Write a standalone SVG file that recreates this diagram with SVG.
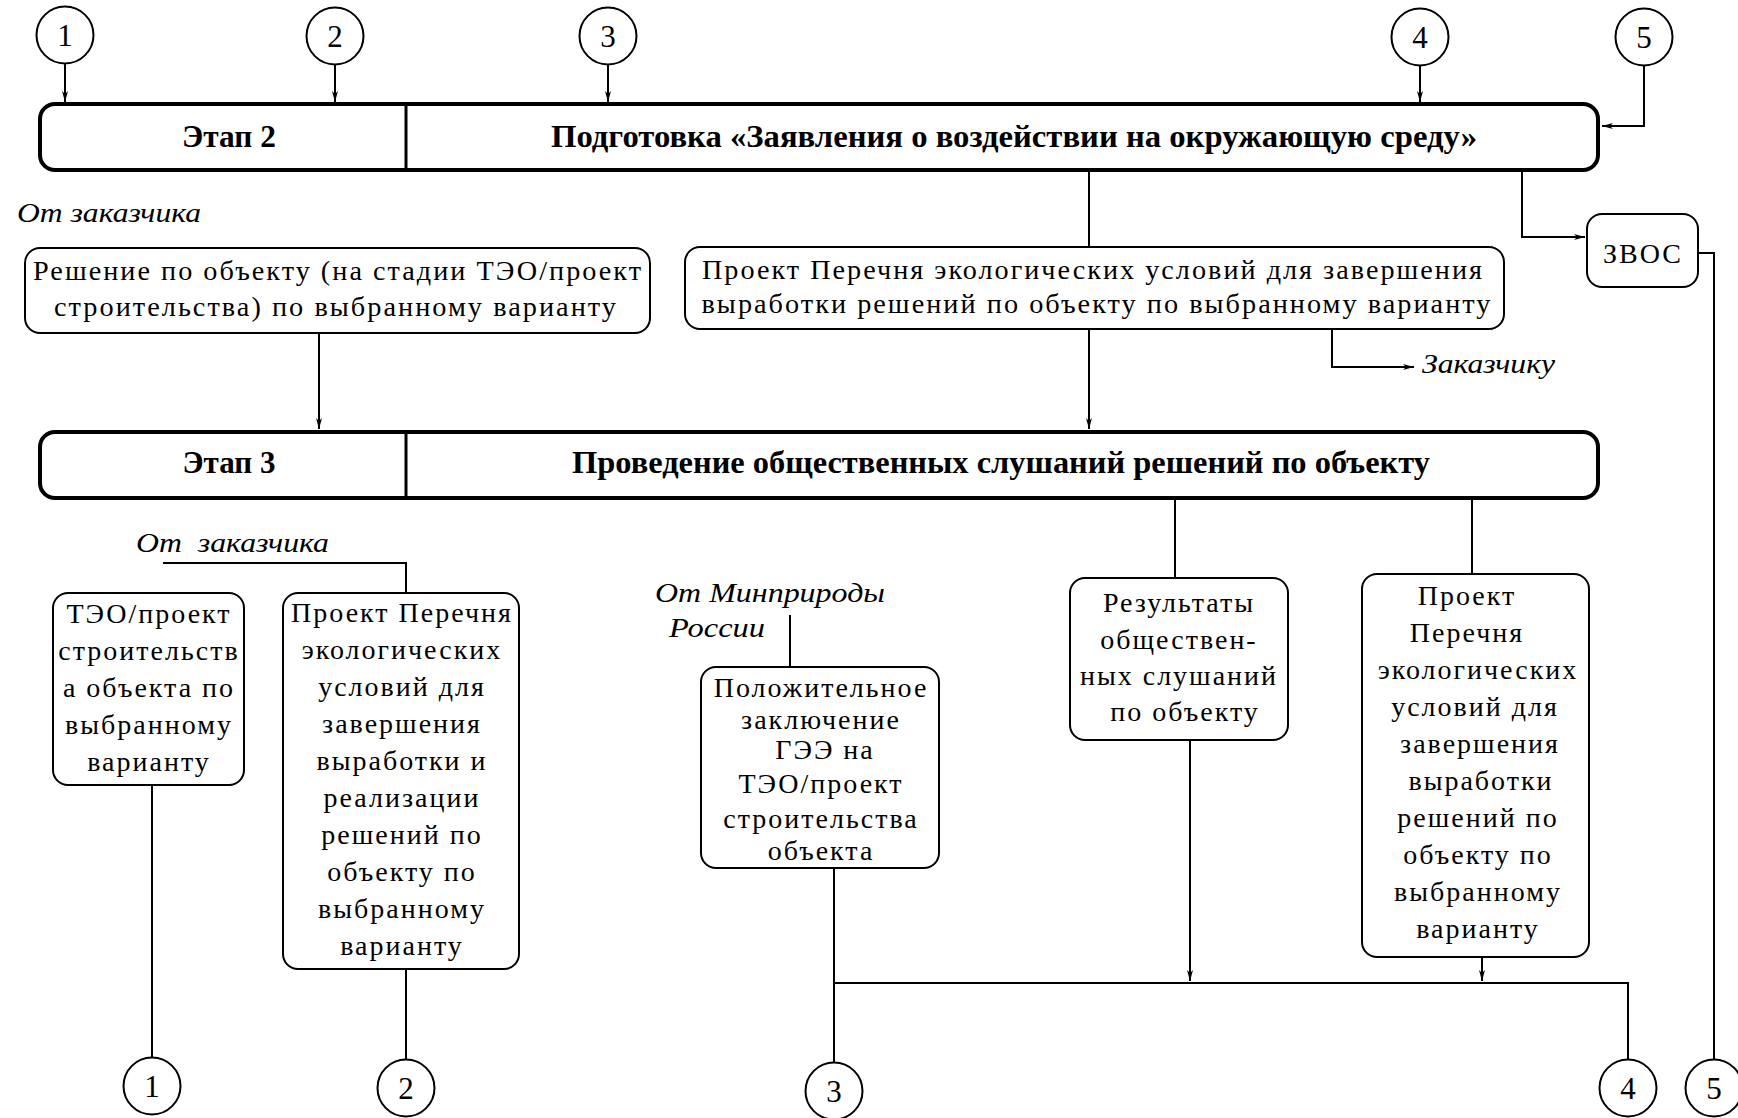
<svg xmlns="http://www.w3.org/2000/svg" width="1738" height="1118" viewBox="0 0 1738 1118">
<style>
.bar{fill:#fff;stroke:#000;stroke-width:4}
.div{stroke:#000;stroke-width:3}
.box{fill:#fff;stroke:#000;stroke-width:2}
.circ{fill:#fff;stroke:#000;stroke-width:2}
.ln{fill:none;stroke:#000;stroke-width:2}
.t{font-family:"Liberation Serif","Times New Roman",serif;font-size:28px;letter-spacing:2px;text-anchor:middle;fill:#000}
.h{font-family:"Liberation Serif","Times New Roman",serif;font-weight:bold;font-size:32px;text-anchor:middle;fill:#000}
.it{font-family:"Liberation Serif","Times New Roman",serif;font-style:italic;font-size:27px;fill:#000}
.num{font-family:"Liberation Serif","Times New Roman",serif;font-size:31px;text-anchor:middle;fill:#000}
</style>
<defs>
<marker id="arr" markerUnits="userSpaceOnUse" markerWidth="12" markerHeight="8" refX="11" refY="4" orient="auto">
<path d="M0,1 L11,4 L0,7 L3,4 z" fill="#000"/>
</marker>
</defs>
<rect width="1738" height="1118" fill="#fff"/>

<g id="connectors">
<path class="ln" d="M65,64 V102" marker-end="url(#arr)"/>
<path class="ln" d="M335,65 V102" marker-end="url(#arr)"/>
<path class="ln" d="M608,65 V102" marker-end="url(#arr)"/>
<path class="ln" d="M1420,66 V102" marker-end="url(#arr)"/>
<path class="ln" d="M1644,66 V126 H1602" marker-end="url(#arr)"/>
<path class="ln" d="M1522,170 V237 H1585" marker-end="url(#arr)"/>
<path class="ln" d="M1089,170 V247"/>
<path class="ln" d="M319,333 V429" marker-end="url(#arr)"/>
<path class="ln" d="M1089,329 V429" marker-end="url(#arr)"/>
<path class="ln" d="M1332,329 V367 H1414" marker-end="url(#arr)"/>
<path class="ln" d="M1698,253 H1714 V1059"/>
<path class="ln" d="M163,563 H406 V593"/>
<path class="ln" d="M790,615 V667"/>
<path class="ln" d="M1175,498 V578"/>
<path class="ln" d="M1472,498 V574"/>
<path class="ln" d="M152,785 V1057"/>
<path class="ln" d="M406,969 V1059"/>
<path class="ln" d="M834,868 V1062"/>
<path class="ln" d="M834,983 H1628 V1059"/>
<path class="ln" d="M1190,740 V981" marker-end="url(#arr)"/>
<path class="ln" d="M1482,957 V981" marker-end="url(#arr)"/>
</g>

<g id="c1-top"><circle class="circ" cx="65" cy="35" r="28.5"/><text class="num" x="65" y="46">1</text></g>
<g id="c2-top"><circle class="circ" cx="335" cy="36" r="28.5"/><text class="num" x="335" y="47">2</text></g>
<g id="c3-top"><circle class="circ" cx="608" cy="36" r="28.5"/><text class="num" x="608" y="47">3</text></g>
<g id="c4-top"><circle class="circ" cx="1420" cy="37" r="28.5"/><text class="num" x="1420" y="48">4</text></g>
<g id="c5-top"><circle class="circ" cx="1644" cy="37" r="28.5"/><text class="num" x="1644" y="48">5</text></g>

<g id="stage2">
<rect class="bar" x="40" y="104" width="1558" height="66" rx="15"/>
<line class="div" x1="406" y1="104" x2="406" y2="170"/>
<text class="h" x="229" y="147" textLength="94" lengthAdjust="spacingAndGlyphs">Этап 2</text>
<text class="h" x="1014" y="147" textLength="926" lengthAdjust="spacingAndGlyphs">Подготовка «Заявления о воздействии на окружающую среду»</text>
</g>

<g id="from-customer-1"><text class="it" x="17" y="222" textLength="184" lengthAdjust="spacingAndGlyphs">От заказчика</text></g>

<g id="decision">
<rect class="box" x="25" y="248" width="625" height="85" rx="15"/>
<text class="t" x="338" y="280" textLength="610" lengthAdjust="spacingAndGlyphs">Решение по объекту (на стадии ТЭО/проект</text>
<text class="t" x="336" y="316" textLength="564" lengthAdjust="spacingAndGlyphs">строительства) по выбранному варианту</text>
</g>

<g id="draft-list-1">
<rect class="box" x="685" y="247" width="819" height="82" rx="15"/>
<text class="t" x="1093" y="279" textLength="782" lengthAdjust="spacingAndGlyphs">Проект Перечня экологических условий для завершения</text>
<text class="t" x="1097" y="313" textLength="791" lengthAdjust="spacingAndGlyphs">выработки решений по объекту по выбранному варианту</text>
</g>

<g id="zvos">
<rect class="box" x="1587" y="214" width="111" height="73" rx="15"/>
<text class="t" x="1643" y="263">ЗВОС</text>
</g>

<g id="to-customer"><text class="it" x="1422" y="373" textLength="133" lengthAdjust="spacingAndGlyphs">Заказчику</text></g>

<g id="stage3">
<rect class="bar" x="40" y="432" width="1558" height="66" rx="15"/>
<line class="div" x1="406" y1="432" x2="406" y2="498"/>
<text class="h" x="229" y="473" textLength="93" lengthAdjust="spacingAndGlyphs">Этап 3</text>
<text class="h" x="1001" y="473" textLength="858" lengthAdjust="spacingAndGlyphs">Проведение общественных слушаний решений по объекту</text>
</g>

<g id="from-customer-2"><text class="it" x="136" y="552" textLength="193" lengthAdjust="spacingAndGlyphs" xml:space="preserve">От  заказчика</text></g>

<g id="teo">
<rect class="box" x="53" y="593" width="191" height="192" rx="15"/>
<text class="t" x="149" y="623">ТЭО/проект</text>
<text class="t" x="149" y="660">строительств</text>
<text class="t" x="149" y="697">а объекта по</text>
<text class="t" x="149" y="734">выбранному</text>
<text class="t" x="149" y="771">варианту</text>
</g>

<g id="draft-list-2">
<rect class="box" x="283" y="593" width="236" height="376" rx="15"/>
<text class="t" x="402" y="622">Проект Перечня</text>
<text class="t" x="402" y="659">экологических</text>
<text class="t" x="402" y="696">условий для</text>
<text class="t" x="402" y="733">завершения</text>
<text class="t" x="402" y="770">выработки и</text>
<text class="t" x="402" y="807">реализации</text>
<text class="t" x="402" y="844">решений по</text>
<text class="t" x="402" y="881">объекту по</text>
<text class="t" x="402" y="918">выбранному</text>
<text class="t" x="402" y="955">варианту</text>
</g>

<g id="from-ministry">
<text class="it" x="655" y="602" textLength="230" lengthAdjust="spacingAndGlyphs">От Минприроды</text>
<text class="it" x="669" y="637" textLength="96" lengthAdjust="spacingAndGlyphs">России</text>
</g>

<g id="gee">
<rect class="box" x="701" y="667" width="238" height="201" rx="15"/>
<text class="t" x="821" y="697">Положительное</text>
<text class="t" x="821" y="729">заключение</text>
<text class="t" x="825" y="759">ГЭЭ на</text>
<text class="t" x="821" y="793">ТЭО/проект</text>
<text class="t" x="821" y="828">строительства</text>
<text class="t" x="821" y="860">объекта</text>
</g>

<g id="results">
<rect class="box" x="1070" y="578" width="218" height="162" rx="15"/>
<text class="t" x="1179" y="612">Результаты</text>
<text class="t" x="1179" y="649">обществен-</text>
<text class="t" x="1179" y="685">ных слушаний</text>
<text class="t" x="1185" y="721">по объекту</text>
</g>

<g id="draft-list-3">
<rect class="box" x="1362" y="574" width="227" height="383" rx="15"/>
<text class="t" x="1467" y="605">Проект</text>
<text class="t" x="1467" y="642">Перечня</text>
<text class="t" x="1478" y="679">экологических</text>
<text class="t" x="1475" y="716">условий для</text>
<text class="t" x="1480" y="753">завершения</text>
<text class="t" x="1481" y="790">выработки</text>
<text class="t" x="1478" y="827">решений по</text>
<text class="t" x="1478" y="864">объекту по</text>
<text class="t" x="1478" y="901">выбранному</text>
<text class="t" x="1478" y="938">варианту</text>
</g>

<g id="c1-bottom"><circle class="circ" cx="152" cy="1086" r="28.5"/><text class="num" x="152" y="1097">1</text></g>
<g id="c2-bottom"><circle class="circ" cx="406" cy="1088" r="28.5"/><text class="num" x="406" y="1099">2</text></g>
<g id="c3-bottom"><circle class="circ" cx="834" cy="1091" r="28.5"/><text class="num" x="834" y="1102">3</text></g>
<g id="c4-bottom"><circle class="circ" cx="1628" cy="1088" r="28.5"/><text class="num" x="1628" y="1099">4</text></g>
<g id="c5-bottom"><circle class="circ" cx="1714" cy="1088" r="28.5"/><text class="num" x="1714" y="1099">5</text></g>
</svg>
